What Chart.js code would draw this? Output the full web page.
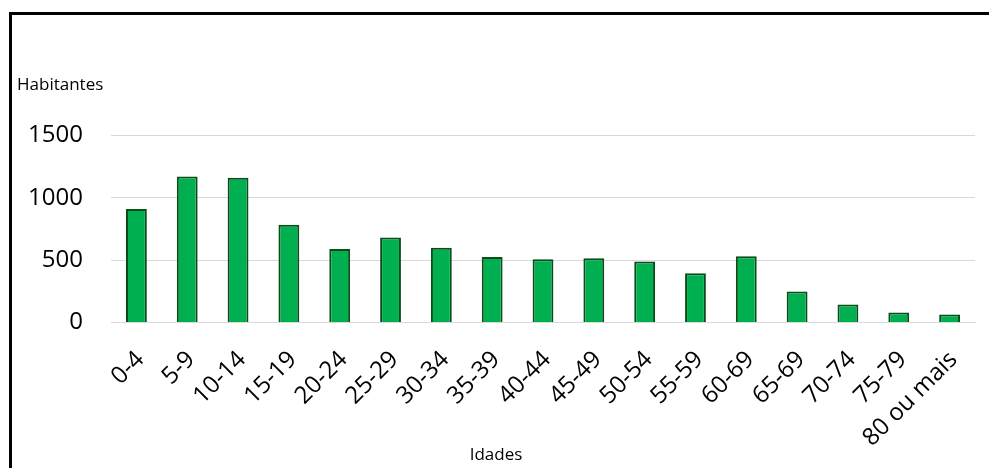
<!DOCTYPE html>
<html>
<head>
<meta charset="utf-8">
<script src="https://cdn.jsdelivr.net/npm/chart.js@4.4.1/dist/chart.umd.min.js"></script>
<style>
  html, body { margin: 0; padding: 0; background: #fff; overflow: hidden; }
  #frame {
    position: absolute; left: 9px; top: 12px; width: 1000px; height: 500px;
    border-top: 3px solid #000; border-left: 3px solid #000;
  }
  #wrap { position: absolute; left: 0; top: 0; width: 989px; height: 468px; }
</style>
</head>
<body>
<div id="frame"></div>
<div id="wrap"><canvas id="popChart" width="989" height="468"></canvas></div>
<script>
const ageGroups = ['0-4', '5-9', '10-14', '15-19', '20-24', '25-29', '30-34', '35-39', '40-44',
    '45-49', '50-54', '55-59', '60-69', '65-69', '70-74', '75-79', '80 ou mais'];
const residents = [910, 1170, 1160, 785, 590, 682, 600, 526, 507, 515, 489, 395, 531, 250, 146, 80, 64];
const yTicks = [0, 500, 1000, 1500];

const fontFamily = '"Open Sans", Calibri, sans-serif';

function plotGraph() {
    const ctx = document.getElementById('popChart').getContext('2d');

    window.myChart = new Chart(ctx, {
        type: 'bar',
        data: {
            labels: ageGroups,
            datasets: [{
                label: 'Habitantes',
                data: residents,
                backgroundColor: '#00b050',
                borderColor: '#0a4d1a',
                borderWidth: 2,
                barPercentage: 0.41,
                categoryPercentage: 1
            }]
        },
        options: {
            responsive: false,
            animation: false,
            layout: { padding: { left: 17, right: 14, top: 20, bottom: 3 } },
            plugins: {
                legend: { display: false },
                tooltip: { enabled: false },
                title: {
                    display: true,
                    text: 'Habitantes',
                    align: 'start',
                    color: '#000',
                    font: { family: fontFamily, size: 17, weight: 'normal' },
                    padding: { top: 55, bottom: 40 }
                },
                subtitle: {
                    display: true,
                    position: 'bottom',
                    text: 'Idades',
                    color: '#000',
                    font: { family: fontFamily, size: 17 },
                    padding: { top: 12, bottom: 0 }
                }
            },
            scales: {
                x: {
                    // labels run down into the title band, as in the original,
                    // so shrink the box and stop the label clipping
                    afterFit: axis => {
                        axis.height = 110;
                        axis._computeLabelArea = () => undefined;
                    },
                    grid: { display: false },
                    border: { display: true, color: '#d9d9d9' },
                    ticks: {
                        color: '#000',
                        font: { family: fontFamily, size: 24 },
                        minRotation: 45,
                        maxRotation: 45,
                        autoSkip: false,
                        padding: 15,
                        labelOffset: 4
                    }
                },
                y: {
                    min: 0,
                    max: 1500,
                    afterBuildTicks: axis => { axis.ticks = yTicks.map(v => ({ value: v })); },
                    afterFit: axis => { axis.width = 94; },
                    grid: { color: '#d9d9d9', drawTicks: false },
                    border: { display: false },
                    ticks: {
                        color: '#000',
                        font: { family: fontFamily, size: 24 },
                        padding: 28,
                        callback: v => String(v)
                    }
                }
            }
        }
    });
}

plotGraph();
</script>
</body>
</html>
